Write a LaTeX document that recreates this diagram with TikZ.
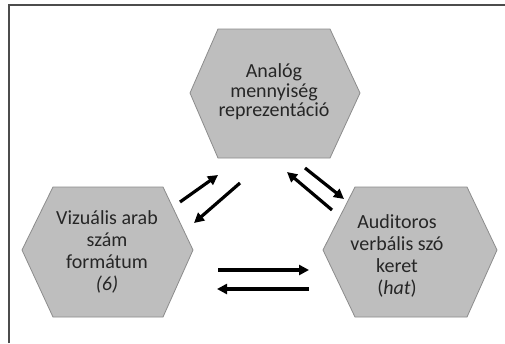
\documentclass[tikz,border=0pt]{standalone}
\usepackage{fontspec}
\setmainfont{Carlito}
\usetikzlibrary{arrows.meta}
\definecolor{hexfill}{HTML}{BEBEBE}
\definecolor{hexdraw}{HTML}{8C8C8C}
\definecolor{txt}{HTML}{262626}
\begin{document}
\begin{tikzpicture}[x=1pt,y=-1pt,
  hexa/.style={fill=hexfill,draw=hexdraw,line width=0.8pt,line join=miter},
  lbl/.style={align=center,font=\fontsize{20}{22}\selectfont,text=txt,inner sep=0pt},
  conn/.style={line width=3.2pt,-{Triangle[length=10pt,width=10pt]}}]
\useasboundingbox (0,0) rectangle (505,343);
\fill[white] (0,0) rectangle (505,343);
\draw[line width=1.3pt,color=black!70] (9,343) -- (9,5) -- (505,5);
% hexagons
\draw[hexa] (218,29) -- (330,29) -- (360,93) -- (330,158) -- (218,158) -- (190,93) -- cycle;
\draw[hexa] (53,187) -- (163,187) -- (193,250) -- (163,317) -- (53,317) -- (22,250) -- cycle;
\draw[hexa] (355,187) -- (467,187) -- (497,250) -- (467,317) -- (355,317) -- (323,250) -- cycle;
% labels
\node[lbl,font=\fontsize{20}{19.5}\selectfont] (analog) at (274,92) {Analóg\\mennyiség\\reprezentáció};
\node[lbl] (vizual) at (107,252) {Vizuális arab\\szám\\formátum\\\textit{(6)}};
\node[lbl] (audit) at (397,256) {Auditoros\\verbális szó\\keret\\(\textit{hat})};
% arrow endpoints
\coordinate (a1s) at (180,202); \coordinate (a1e) at (218,175);
\coordinate (a2s) at (240,183); \coordinate (a2e) at (194,223);
\coordinate (a3s) at (305,168); \coordinate (a3e) at (344,199);
\coordinate (a4s) at (332,210); \coordinate (a4e) at (287,172);
\coordinate (a5s) at (218,270); \coordinate (a5e) at (309,270);
\coordinate (a6s) at (309,289); \coordinate (a6e) at (217,289);
\draw[conn] (a1s) -- (a1e);
\draw[conn] (a2s) -- (a2e);
\draw[conn] (a3s) -- (a3e);
\draw[conn] (a4s) -- (a4e);
\draw[conn] (a5s) -- (a5e);
\draw[conn] (a6s) -- (a6e);
\end{tikzpicture}
\end{document}
